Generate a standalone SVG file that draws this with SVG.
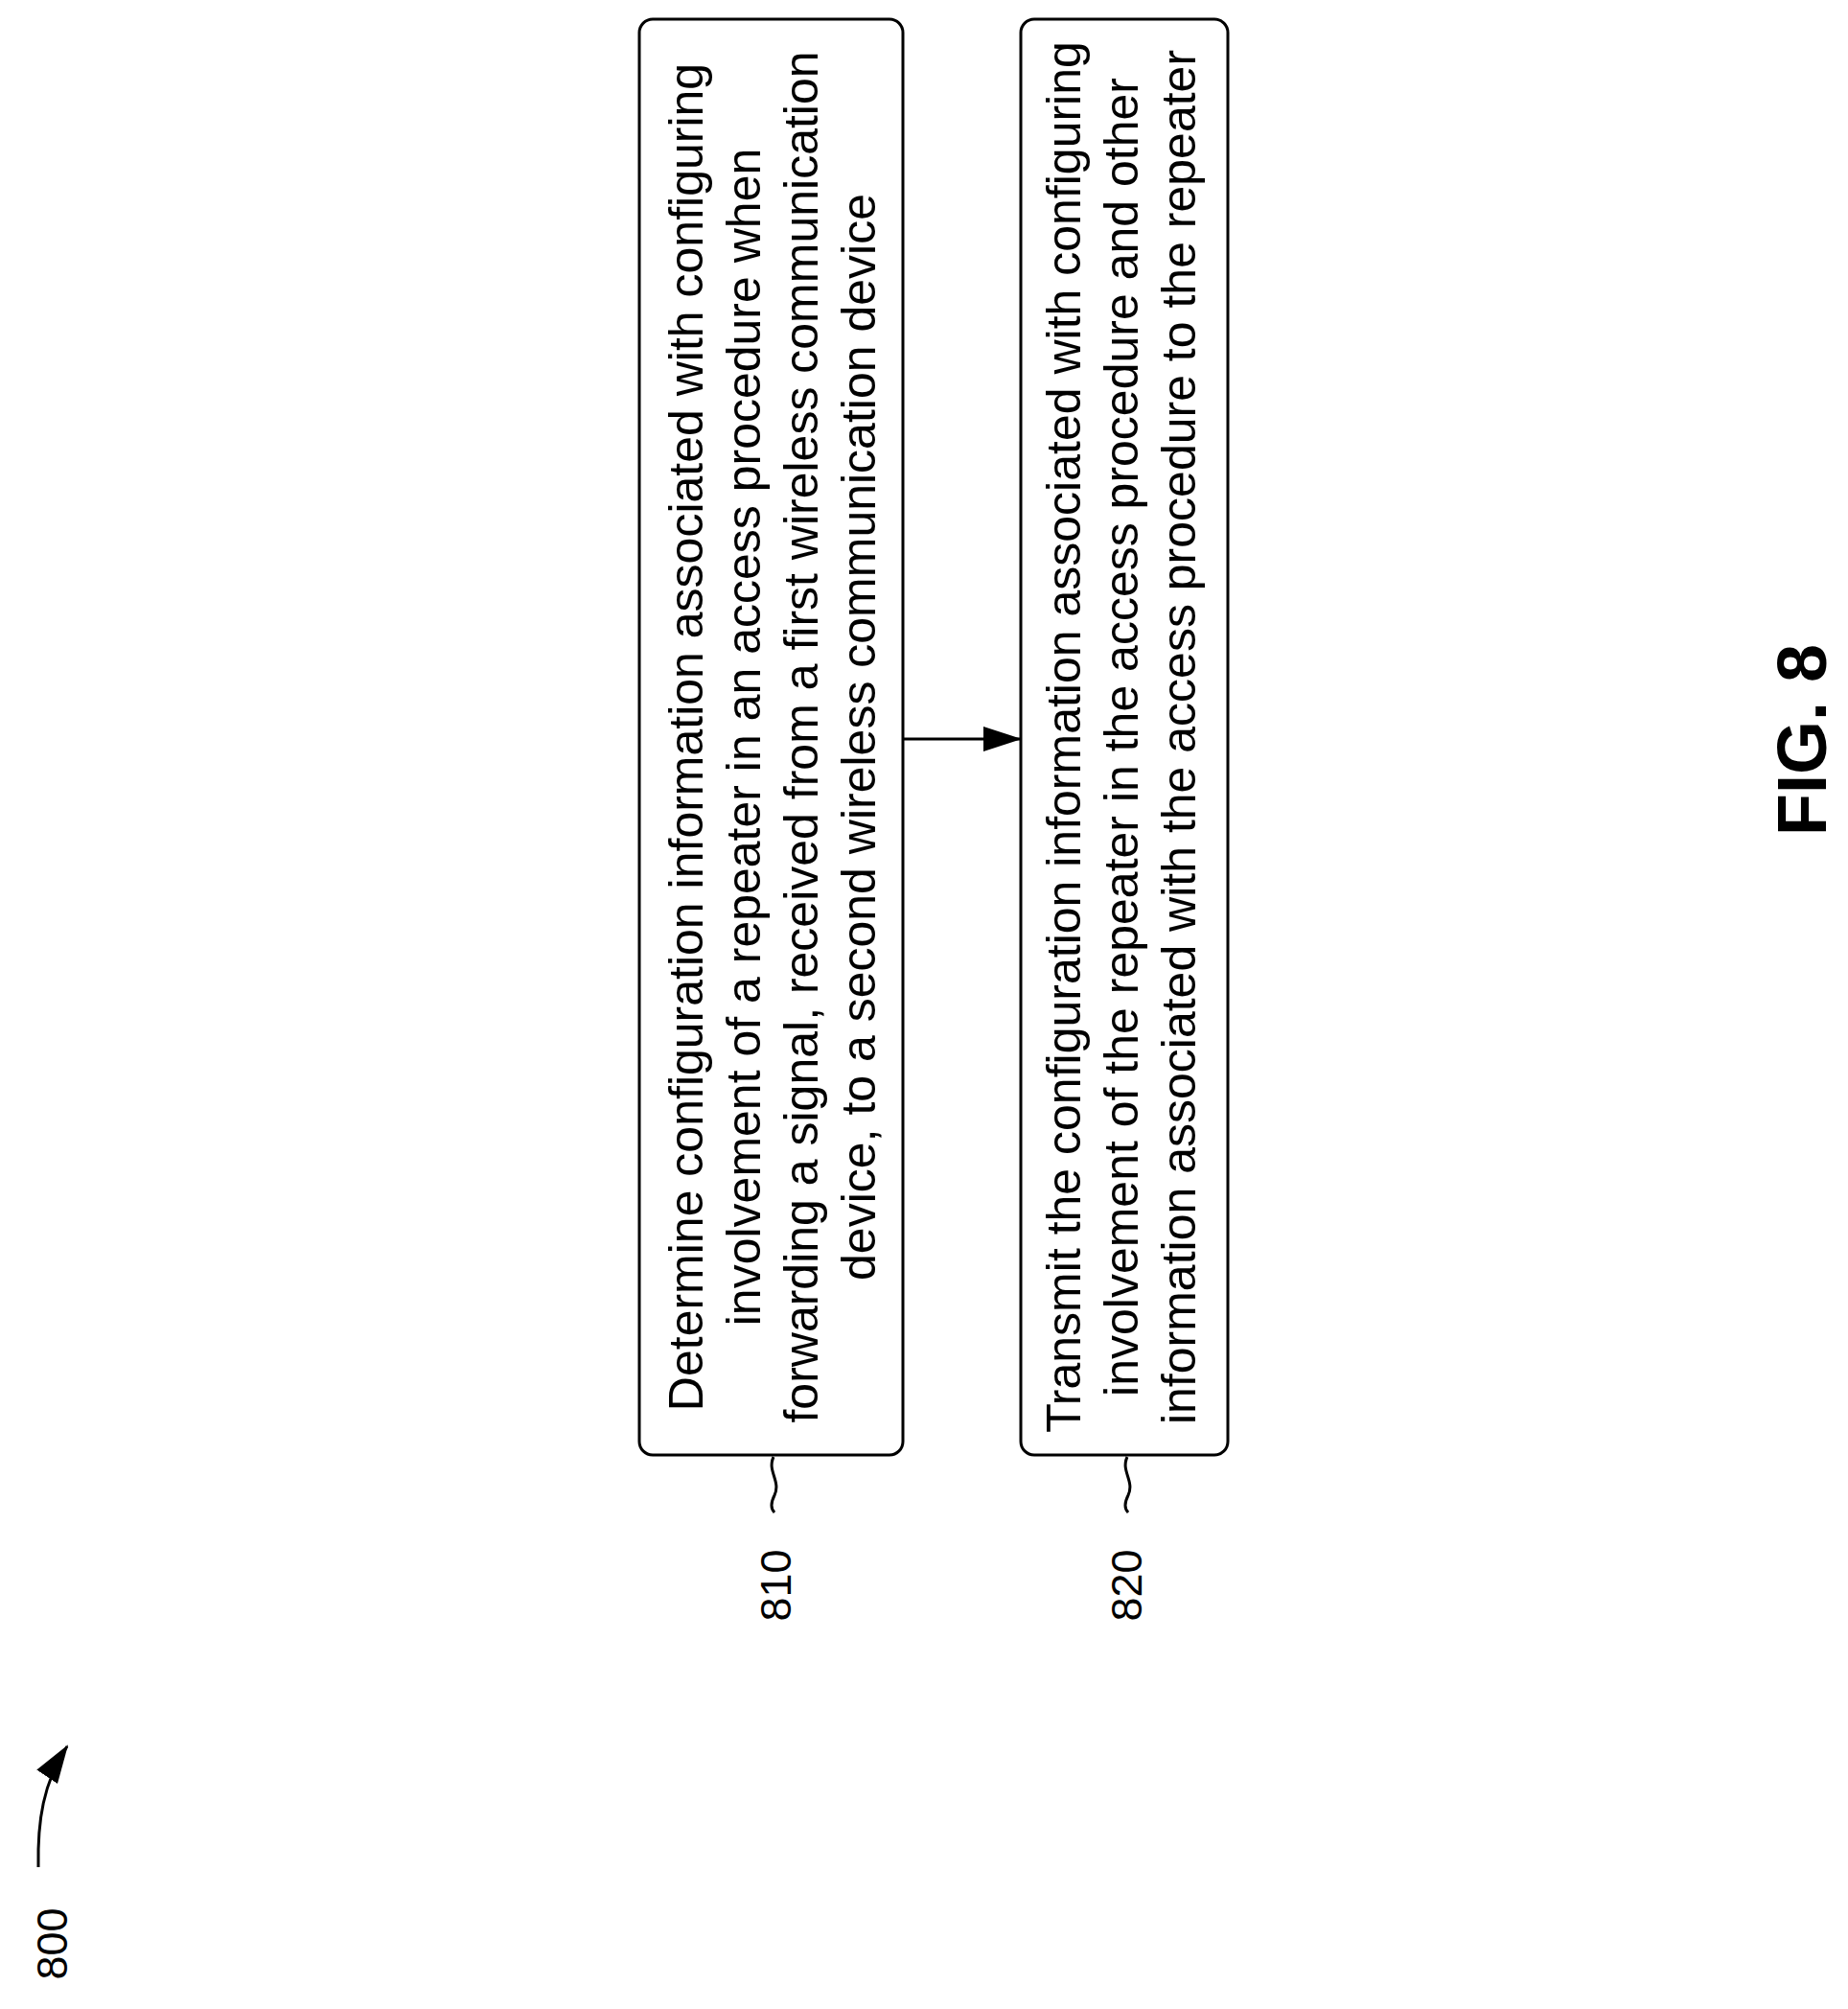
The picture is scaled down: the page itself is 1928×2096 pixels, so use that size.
<svg xmlns="http://www.w3.org/2000/svg" width="1928" height="2096" viewBox="0 0 1928 2096">
<style>
.box{fill:#fff;stroke:#000;stroke-width:3}
.t{font-family:"Liberation Sans",Arial,sans-serif;font-size:50px;text-anchor:middle;fill:#000}
.lb{font-family:"Liberation Sans",Arial,sans-serif;font-size:45px;text-anchor:middle;fill:#000}
.ln{fill:none;stroke:#000;stroke-width:3}
</style>
<defs>
<marker id="ah2" markerWidth="40" markerHeight="26" refX="38" refY="13" orient="auto" markerUnits="userSpaceOnUse"><path d="M0,0 L40,13 L0,26 Z" fill="#000"/></marker>
</defs>
<rect width="1928" height="2096" fill="#fff"/>
<g id="n810">
<rect class="box" x="667" y="20" width="275" height="1498" rx="14"/>
<g transform="translate(0,769) rotate(-90)">
<text class="t" x="0" y="733">Determine configuration information associated with configuring</text>
<text class="t" x="0" y="793">involvement of a repeater in an access procedure when</text>
<text class="t" x="0" y="853">forwarding a signal, received from a first wireless communication</text>
<text class="t" x="0" y="913">device, to a second wireless communication device</text>
</g>
<path class="ln" d="M807,1520 C800,1535 815,1545 808,1560 C803,1570 805,1575 808,1578"/>
<text class="lb" transform="translate(825,1654) rotate(-90)">810</text>
</g>
<g id="n820">
<rect class="box" x="1065" y="20" width="216" height="1498" rx="14"/>
<g transform="translate(0,769) rotate(-90)">
<text class="t" x="0" y="1127">Transmit the configuration information associated with configuring</text>
<text class="t" x="0" y="1187">involvement of the repeater in the access procedure and other</text>
<text class="t" x="0" y="1247">information associated with the access procedure to the repeater</text>
</g>
<path class="ln" d="M1176,1520 C1169,1535 1184,1545 1177,1560 C1172,1570 1174,1575 1177,1578"/>
<text class="lb" transform="translate(1191,1654) rotate(-90)">820</text>
</g>
<g id="n800">
<text class="lb" transform="translate(70,2028) rotate(-90)">800</text>
<path class="ln" d="M40,1948 C39,1900 45,1860 70,1822" marker-end="url(#ah2)"/>
</g>
<g id="connectors">
<line class="ln" x1="942" y1="771" x2="1064" y2="771" marker-end="url(#ah2)"/>
</g>
<text transform="translate(1905,772) rotate(-90)" style="font-family:'Liberation Sans',Arial,sans-serif;font-weight:bold;font-size:72px;text-anchor:middle">FIG. 8</text>
</svg>
